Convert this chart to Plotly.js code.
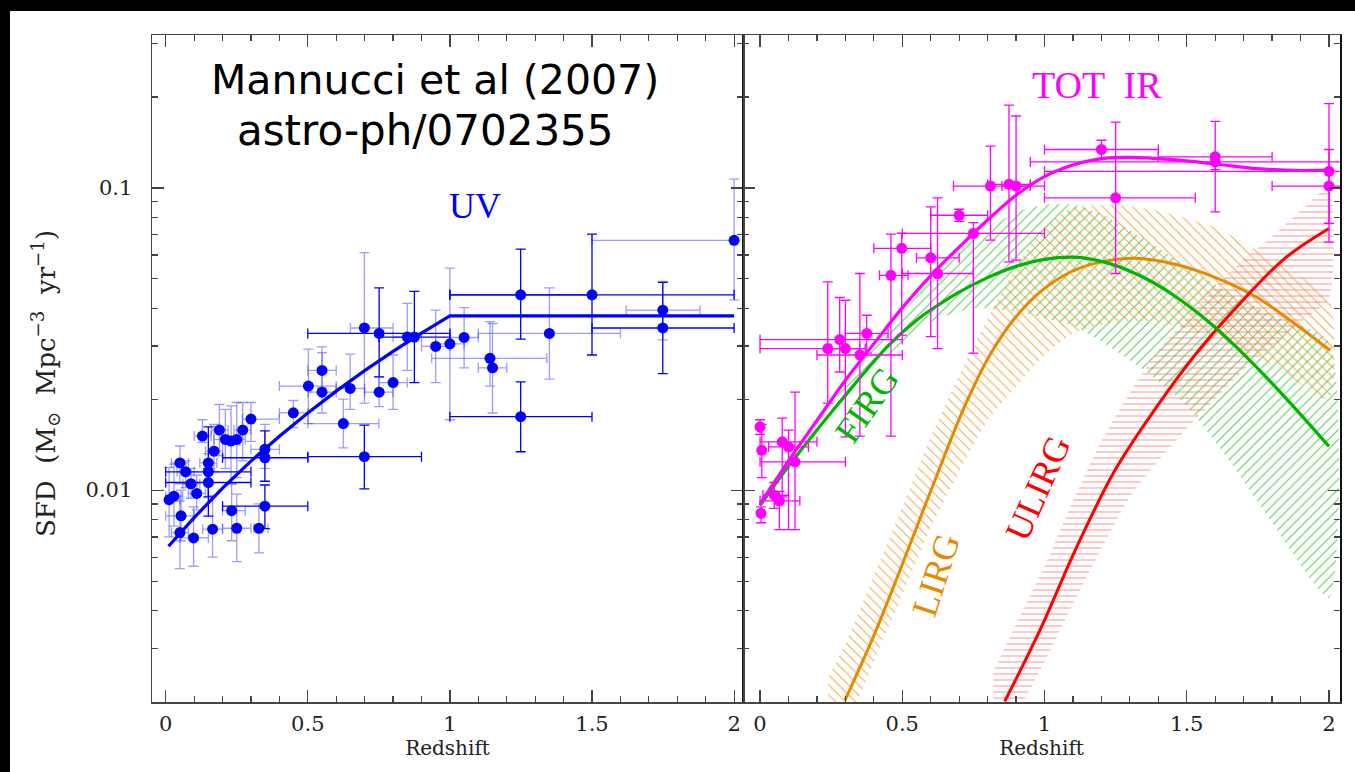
<!DOCTYPE html>
<html><head><meta charset="utf-8">
<script src="https://cdn.plot.ly/plotly-3.0.1.min.js"></script>
<style>
html,body{margin:0;padding:0;background:#000;width:1355px;height:772px;overflow:hidden}
#plot{position:absolute;left:10px;top:11px;width:1345px;height:761px;background:#fff}
</style>
</head><body><div id="plot"></div>
<script>
// ---------- UV panel data ----------
const uvZ    = [0.012,0.029,0.050,0.070,0.089,0.109,0.054,0.050,0.098,0.129,0.150,0.150,0.150,0.170,0.189,0.210,0.230,0.250,0.271,0.300,0.165,0.232,0.250,0.328,0.349,0.349,0.349,0.449,0.502,0.550,0.550,0.649,0.625,0.699,0.699,0.751,0.751,0.800,0.850,0.875,0.950,1.000,1.050,1.141,1.150,1.249,1.249,1.350,1.500,1.749,1.749,2.000];
const uvV    = [0.0093,0.00955,0.0123,0.0115,0.0105,0.00975,0.00822,0.00724,0.00695,0.0151,0.0123,0.0115,0.0106,0.01346,0.0158,0.01472,0.01453,0.01472,0.0158,0.01718,0.00743,0.00855,0.00748,0.00748,0.00885,0.0128,0.01365,0.01803,0.0221,0.0211,0.0249,0.0217,0.0166,0.0129,0.0344,0.033,0.0211,0.0227,0.0321,0.0321,0.0299,0.0305,0.032,0.0273,0.0254,0.0443,0.0175,0.033,0.0443,0.0394,0.0344,0.0671];
const uvVlo  = [0.0070,0.0076,0.0105,0.0102,0.0094,0.0086,0.0068,0.0055,0.0056,0.0144,0.0115,0.0082,0.0095,0.0115,0.0130,0.0118,0.0105,0.0110,0.0125,0.0145,0.0060,0.0068,0.0058,0.0062,0.00746,0.0107,0.0118,0.0161,0.0166,0.0180,0.0218,0.0185,0.0138,0.0101,0.0194,0.0237,0.0189,0.0185,0.0249,0.0227,0.0227,0.0171,0.0254,0.0221,0.0180,0.0316,0.0134,0.0233,0.0280,0.0314,0.0243,0.0426];
const uvVhi  = [0.0119,0.0122,0.0140,0.0125,0.0118,0.0112,0.0100,0.0092,0.0088,0.0171,0.0132,0.0162,0.0118,0.0165,0.0192,0.0185,0.0190,0.0195,0.0195,0.0195,0.0096,0.0105,0.0097,0.0090,0.0104,0.0157,0.0165,0.0198,0.0293,0.0298,0.0285,0.0282,0.0200,0.0164,0.0611,0.0467,0.0237,0.0280,0.0415,0.0455,0.0394,0.0543,0.0402,0.0361,0.0356,0.0627,0.0228,0.0467,0.0703,0.0491,0.0487,0.107];
const uvZlo  = [0.00,0.00,0.02,0.04,0.06,0.08,0.00,0.02,0.05,0.10,0.12,0.00,0.00,0.14,0.16,0.17,0.20,0.22,0.24,0.27,0.13,0.20,0.20,0.31,0.20,0.20,0.30,0.40,0.40,0.50,0.50,0.60,0.50,0.50,0.65,0.50,0.70,0.75,0.80,0.75,0.90,0.95,1.00,0.936,1.10,1.00,1.00,1.10,1.00,1.62,1.50,1.50];
const uvZhi  = [0.05,0.06,0.08,0.10,0.12,0.14,0.10,0.08,0.15,0.16,0.18,0.30,0.30,0.20,0.22,0.25,0.26,0.28,0.30,0.40,0.20,0.28,0.30,0.36,0.50,0.50,0.40,0.50,0.60,0.60,0.60,0.70,0.75,0.90,0.80,1.00,0.80,0.85,0.90,1.00,1.00,1.05,1.10,1.341,1.20,1.50,1.50,1.60,2.00,1.88,2.00,2.00];
const uvDark = [0,0,0,0,0,0,0,0,0,0,0,1,1,0,0,0,0,0,0,0,0,0,0,0,1,1,0,0,0,0,0,0,0,1,0,1,0,0,0,1,0,0,0,0,0,1,1,0,1,0,1,0];
const uvFitZ = [0.01,0.1,0.2,0.3,0.4,0.5,0.6,0.7,0.8,0.9,1.0,2.0];
const uvFitV = [0.00652,0.00811,0.01015,0.01247,0.01508,0.0180,0.02126,0.02485,0.02878,0.03306,0.0377,0.0377];

// ---------- IR panel data ----------
const irZ   = [0.0,0.006,0.078,0.100,0.123,0.050,0.068,0.0035,0.238,0.280,0.300,0.351,0.375,0.460,0.498,0.600,0.624,0.700,0.750,0.810,0.875,0.900,1.200,1.250,1.600,1.600,2.000,2.000];
const irV   = [0.0162,0.01355,0.01445,0.0139,0.01241,0.00962,0.00922,0.00838,0.0294,0.0315,0.0294,0.028,0.033,0.0514,0.0631,0.0587,0.0521,0.0812,0.0707,0.1014,0.1028,0.1014,0.134,0.0927,0.1267,0.1219,0.1135,0.1014];
const irVlo = [0.0153,0.0110,0.0095,0.0074,0.0074,0.0087,0.0074,0.0078,0.0194,0.0246,0.0150,0.0151,0.0284,0.0151,0.0326,0.0322,0.0294,0.0775,0.0284,0.0672,0.0569,0.0577,0.125,0.0521,0.0833,0.115,0.0662,0.0764];
const irVhi = [0.0171,0.0165,0.0173,0.0158,0.0211,0.0106,0.0099,0.0088,0.0489,0.0434,0.0425,0.0521,0.0379,0.0703,0.0708,0.0865,0.0927,0.0850,0.0768,0.1374,0.188,0.173,0.1438,0.165,0.166,0.129,0.190,0.134];
const irZlo = [0.0,0.006,0.00,0.03,0.00,0.01,0.00,0.0035,0.00,0.00,0.25,0.20,0.30,0.42,0.40,0.55,0.50,0.60,0.50,0.68,0.80,0.85,1.00,1.00,1.40,0.95,1.00,1.80];
const irZhi = [0.0,0.006,0.20,0.17,0.30,0.10,0.14,0.0035,0.37,0.50,0.35,0.50,0.45,0.52,0.60,0.70,0.75,0.80,1.00,1.00,0.95,0.95,1.40,1.53,1.80,2.10,2.10,2.10];
const totFitZ = [0.0,0.1,0.2,0.3,0.4,0.5,0.6,0.7,0.8,0.9,1.0,1.1,1.2,1.3,1.45,1.6,1.75,1.9,2.0];
const totFitV = [0.0090,0.0125,0.0170,0.0231,0.0305,0.0401,0.0513,0.0637,0.0783,0.0946,0.109,0.119,0.125,0.1262,0.1240,0.1200,0.1158,0.1142,0.1145];
const firgZ = [0.0,0.1,0.2,0.3,0.45,0.55,0.63,0.7,0.8,0.9,1.0,1.1,1.22,1.34,1.45,1.59,1.72,1.86,2.0];
const firgV = [0.0089,0.0120,0.0158,0.0206,0.0300,0.0365,0.0412,0.0452,0.0505,0.0550,0.0580,0.0590,0.0565,0.0510,0.0444,0.0352,0.0270,0.0196,0.01396];
const lirgZ = [0.299,0.40,0.492,0.615,0.721,0.808,0.896,0.984,1.09,1.195,1.318,1.459,1.599,1.74,1.863,2.004];
const lirgV = [0.00202,0.0033,0.00543,0.0108,0.0191,0.0280,0.0371,0.0452,0.0526,0.0568,0.0585,0.0559,0.0506,0.0438,0.0365,0.0290];
const ulirgZ = [0.86,0.984,1.107,1.248,1.388,1.529,1.687,1.845,2.0];
const ulirgV = [0.0020,0.00344,0.0063,0.01165,0.0185,0.0280,0.0415,0.0585,0.0734];
// hatched uncertainty bands
const firgBandZ  = [0.25,0.35,0.45,0.6,0.75,0.9,1.0,1.1,1.2,1.35,1.5,1.65,1.8,2.0];
const firgBandHi = [0.019,0.026,0.034,0.050,0.068,0.083,0.088,0.088,0.082,0.068,0.055,0.045,0.038,0.031];
const firgBandLo = [0.0175,0.023,0.028,0.036,0.040,0.039,0.037,0.035,0.031,0.025,0.019,0.0125,0.0078,0.0044];
const lirgBandZ  = [0.24,0.3,0.4,0.5,0.6,0.7,0.8,0.9,1.0,1.1,1.25,1.4,1.6,1.8,2.0];
const lirgBandHi = [0.0024,0.0031,0.0052,0.0088,0.0150,0.024,0.037,0.055,0.075,0.086,0.088,0.084,0.074,0.058,0.043];
const lirgBandLo = [0.0012,0.0016,0.0027,0.0045,0.0075,0.0115,0.0170,0.022,0.028,0.033,0.036,0.036,0.032,0.026,0.020];
const ulirgBandZ  = [0.82,0.9,1.0,1.1,1.2,1.3,1.4,1.5,1.6,1.7,1.8,1.9,2.0];
const ulirgBandHi = [0.0025,0.0036,0.0056,0.0092,0.0145,0.021,0.029,0.037,0.047,0.058,0.069,0.084,0.10];
const ulirgBandLo = [0.0013,0.0018,0.0027,0.0042,0.0064,0.0095,0.0125,0.016,0.020,0.025,0.030,0.036,0.043];

const yTickVals = [0.01,0.1];
const yTickText = ['0.01','0.1'];
const yMinorVals = [0.002,0.003,0.004,0.005,0.006,0.007,0.008,0.009,0.02,0.03,0.04,0.05,0.06,0.07,0.08,0.09,0.2,0.3];
const xTickVals = [0,0.5,1,1.5,2];
const xTickText = ['0','0.5','1','1.5','2'];

// ---------- build traces ----------
const BLUE='#0000ff', MAG='#ff00ff', GREEN='#00b400', ORANGE='#e58a00', RED='#ff0000';
function sub(a,b){return a.map((v,i)=>v-b[i]);}
function pick(arr,idx){return idx.map(i=>arr[i]);}
function pointTrace(z,v,vlo,vhi,zlo,zhi,color,barColor,xa,ya){
  return {type:'scatter',mode:'markers',x:z,y:v,xaxis:xa,yaxis:ya,
    marker:{color:color,size:11,line:{width:0}},
    error_y:{type:'data',symmetric:false,array:sub(vhi,v),arrayminus:sub(v,vlo),color:barColor,thickness:1.3,width:5},
    error_x:{type:'data',symmetric:false,array:sub(zhi,z),arrayminus:sub(z,zlo),color:barColor,thickness:1.3,width:5},
    hoverinfo:'x+y',showlegend:false};
}
function band(z,hi,lo,shape,col,size){
  return {type:'scatter',mode:'lines',x:z.concat(z.slice().reverse()),y:hi.concat(lo.slice().reverse()),
    xaxis:'x2',yaxis:'y2',fill:'toself',fillcolor:'rgba(0,0,0,0)',line:{width:0,color:'rgba(0,0,0,0)',shape:'spline',smoothing:0.6},
    fillpattern:{shape:shape,fgcolor:col,bgcolor:'rgba(0,0,0,0)',size:size,solidity:0.16},
    hoverinfo:'skip',showlegend:false};
}
const lightIdx=[], darkIdx=[];
uvDark.forEach((d,i)=>(d?darkIdx:lightIdx).push(i));
const traces=[];
traces.push(band(firgBandZ,firgBandHi,firgBandLo,'/', 'rgba(40,185,40,0.75)',7));
traces.push(band(lirgBandZ,lirgBandHi,lirgBandLo,'\\','rgba(240,150,40,0.8)',7));
traces.push(band(ulirgBandZ,ulirgBandHi,ulirgBandLo,'-','rgba(255,110,110,0.8)',6));
[lightIdx,darkIdx].forEach((idx,k)=>{
  traces.push(pointTrace(pick(uvZ,idx),pick(uvV,idx),pick(uvVlo,idx),pick(uvVhi,idx),pick(uvZlo,idx),pick(uvZhi,idx),
    BLUE,k?BLUE:'rgba(60,60,255,0.5)','x','y'));
});
traces.push({type:'scatter',mode:'lines',x:uvFitZ,y:uvFitV,xaxis:'x',yaxis:'y',line:{color:BLUE,width:3.2},showlegend:false});
traces.push({type:'scatter',mode:'lines',x:lirgZ,y:lirgV,xaxis:'x2',yaxis:'y2',line:{color:ORANGE,width:3,shape:'spline'},showlegend:false});
traces.push({type:'scatter',mode:'lines',x:ulirgZ,y:ulirgV,xaxis:'x2',yaxis:'y2',line:{color:RED,width:3,shape:'spline'},showlegend:false});
traces.push({type:'scatter',mode:'lines',x:firgZ,y:firgV,xaxis:'x2',yaxis:'y2',line:{color:GREEN,width:3.2,shape:'spline'},showlegend:false});
traces.push({type:'scatter',mode:'lines',x:totFitZ,y:totFitV,xaxis:'x2',yaxis:'y2',line:{color:MAG,width:3.2,shape:'spline'},showlegend:false});
traces.push(pointTrace(irZ,irV,irVlo,irVhi,irZlo,irZhi,MAG,MAG,'x2','y2'));

// ---------- layout ----------
const SERIF='DejaVu Serif, serif';
const LC='#444';
function xax(range,domain,anchor){
  return {range:range,domain:domain,anchor:anchor,showgrid:false,zeroline:false,showline:true,linecolor:LC,linewidth:1.5,mirror:'ticks',
    ticks:'inside',ticklen:12,tickcolor:LC,tickwidth:1.2,tickmode:'array',tickvals:xTickVals,ticktext:xTickText,
    minor:{tickmode:'linear',tick0:0,dtick:0.1,ticks:'inside',ticklen:6,tickcolor:LC,tickwidth:1.2},
    tickfont:{family:SERIF,size:21,color:'#222'},ticklabelstandoff:2,
    title:{text:'Redshift',font:{family:SERIF,size:20,color:'#222'},standoff:5}};
}
function yax(anchor,labels){
  return {type:'log',range:[-2.701,-0.494],domain:[0,1],anchor:anchor,showgrid:false,zeroline:false,showline:true,linecolor:LC,linewidth:1.5,mirror:'ticks',
    ticks:'inside',ticklen:12,tickcolor:LC,tickwidth:1.2,tickmode:'array',tickvals:yTickVals,ticktext:yTickText,showticklabels:labels,
    minor:{tickmode:'array',tickvals:yMinorVals,ticks:'inside',ticklen:6,tickcolor:LC,tickwidth:1.2},
    tickfont:{family:SERIF,size:21,color:'#222'},ticklabelstandoff:14};
}
const P=(px,py)=>({x:(px-152)/1188,y:(702-py)/667});
function ann(text,px,py,size,color,family,angle){
  const p=P(px,py);
  return {text:text,x:p.x,y:p.y,xref:'paper',yref:'paper',xanchor:'center',yanchor:'middle',showarrow:false,
    textangle:angle||0,font:{family:family,size:size,color:color}};
}
const SANS='DejaVu Sans, sans-serif';
const LAB='Liberation Serif, serif';
const layout={
  width:1345,height:761,margin:{l:142,r:15,t:24,b:70},
  paper_bgcolor:'#ffffff',plot_bgcolor:'rgba(0,0,0,0)',showlegend:false,
  xaxis:xax([-0.0482,2.0314],[0,0.4975],'y'),
  yaxis:yax('x',true),
  xaxis2:xax([-0.0598,2.0387],[0.4975,1],'y2'),
  yaxis2:Object.assign(yax('x2',false),{linecolor:'#111'}),
  annotations:[
    ann('Mannucci et al (2007)',435,80,41,'#000',SANS),
    ann('astro-ph/0702355',425,131,42,'#000',SANS),
    ann('UV',475,206,36,BLUE,LAB),
    ann('TOT  IR',1097,85,38,MAG,LAB),
    ann('FIRG',867,405,36,GREEN,LAB,-55),
    ann('LIRG',936,575,36,ORANGE,LAB,-72),
    ann('ULIRG',1038,488,36,RED,LAB,-66),
    ann('SFD  (M<sub>⊙</sub>  Mpc<sup>−3</sup>  yr<sup>−1</sup>)',45,383,26,'#222',SERIF,-90)
  ]
};
Plotly.newPlot('plot',traces,layout,{staticPlot:true,displayModeBar:false});
</script></body></html>
